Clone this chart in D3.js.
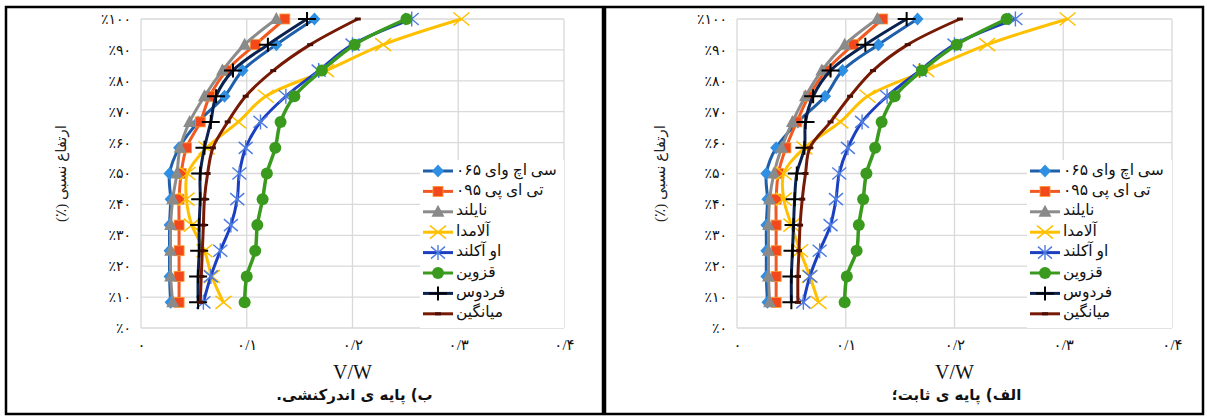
<!DOCTYPE html>
<html>
<head>
<meta charset="utf-8">
<script src="https://cdn.jsdelivr.net/npm/d3@7"></script>
<style>
    html, body { margin: 0; padding: 0; background: #fff; }
    svg { display: block; }
</style>
</head>
<body>
<svg id="chart" width="1207" height="417"></svg>
<script>
"use strict";

// relative height (%) of each measured point, bottom to top
var heights = [8.3, 16.7, 25, 33.3, 41.7, 50, 58.3, 66.7, 75, 83.3, 91.7, 100];

var seriesNames = ["سی اچ وای ۰۶۵", "تی ای پی ۰۹۵", "نایلند", "آلامدا", "او آکلند", "قزوین", "فردوس", "میانگین"];

var xTicks = [0, 0.1, 0.2, 0.3, 0.4];
var yTicks = [0, 10, 20, 30, 40, 50, 60, 70, 80, 90, 100];

// panel b) interactive base
var interChy = [0.028, 0.027, 0.027, 0.027, 0.028, 0.027, 0.036, 0.054, 0.079, 0.096, 0.128, 0.164];
var interTep = [0.036, 0.036, 0.036, 0.036, 0.036, 0.038, 0.043, 0.056, 0.065, 0.081, 0.108, 0.136];
var interNylon = [0.030, 0.028, 0.028, 0.028, 0.030, 0.034, 0.037, 0.046, 0.060, 0.077, 0.098, 0.128];
var interAlameda = [0.078, 0.067, 0.060, 0.048, 0.043, 0.044, 0.062, 0.092, 0.118, 0.175, 0.229, 0.303];
var interAuckland = [0.059, 0.066, 0.075, 0.085, 0.091, 0.093, 0.099, 0.113, 0.137, 0.168, 0.200, 0.256];
var interQazvin = [0.098, 0.100, 0.108, 0.110, 0.115, 0.119, 0.127, 0.132, 0.145, 0.171, 0.202, 0.251];
var interFerdows = [0.054, 0.054, 0.055, 0.055, 0.056, 0.056, 0.060, 0.066, 0.071, 0.087, 0.120, 0.157];
var interMean = [0.056, 0.057, 0.058, 0.059, 0.060, 0.063, 0.068, 0.082, 0.099, 0.125, 0.160, 0.205];

// panel a) fixed base
var fixedChy = [0.028, 0.027, 0.027, 0.027, 0.028, 0.027, 0.036, 0.056, 0.081, 0.097, 0.130, 0.166];
var fixedTep = [0.036, 0.036, 0.036, 0.036, 0.036, 0.038, 0.045, 0.055, 0.066, 0.082, 0.107, 0.134];
var fixedNylon = [0.030, 0.029, 0.029, 0.029, 0.030, 0.034, 0.041, 0.051, 0.063, 0.078, 0.099, 0.129];
var fixedAlameda = [0.075, 0.067, 0.058, 0.050, 0.043, 0.043, 0.062, 0.095, 0.120, 0.174, 0.230, 0.304];
var fixedAuckland = [0.061, 0.067, 0.076, 0.086, 0.091, 0.094, 0.102, 0.115, 0.138, 0.168, 0.200, 0.256];
var fixedQazvin = [0.099, 0.101, 0.110, 0.112, 0.116, 0.119, 0.127, 0.133, 0.145, 0.170, 0.202, 0.248];
var fixedFerdows = [0.050, 0.050, 0.051, 0.052, 0.053, 0.055, 0.062, 0.063, 0.070, 0.086, 0.118, 0.156];
var fixedMean = [0.056, 0.056, 0.057, 0.058, 0.060, 0.063, 0.067, 0.086, 0.104, 0.125, 0.157, 0.205];

var STYLES = [
    { line: "#1f5ea8", width: 3, marker: "diamond", fill: "#2f8fe3", stroke: "#2f8fe3" },
    { line: "#f05a22", width: 3, marker: "square", fill: "#f2481b", stroke: "#ff9a2a" },
    { line: "#8c8c8c", width: 3, marker: "triangle", fill: "#8a8a8a", stroke: "#8a8a8a" },
    { line: "#ffc000", width: 3, marker: "cross", fill: "none", stroke: "#ffc000" },
    { line: "#1b3fc0", width: 3, marker: "star", fill: "none", stroke: "#4d7be0" },
    { line: "#3a9a1e", width: 3.5, marker: "circle", fill: "#3a9a1e", stroke: "#3a9a1e" },
    { line: "#0b2250", width: 3, marker: "plus", fill: "none", stroke: "#000" },
    { line: "#761a06", width: 3, marker: "dash", fill: "none", stroke: "#4a0e00" }
];

var PANELS = [
    {
        frame: [6, 7, 597, 407], x0: 141, x1: 564, tickX: 131, titleX: 63,
        legendX: 423, legendBox: [420, 160, 144, 168],
        caption: "ب) پایه ی اندرکنشی.",
        series: [interChy, interTep, interNylon, interAlameda, interAuckland, interQazvin, interFerdows, interMean]
    },
    {
        frame: [605, 7, 598, 407], x0: 737, x1: 1172, tickX: 727, titleX: 662,
        legendX: 1030, legendBox: [1027, 160, 145, 168],
        caption: "الف) پایه ی ثابت؛",
        series: [fixedChy, fixedTep, fixedNylon, fixedAlameda, fixedAuckland, fixedQazvin, fixedFerdows, fixedMean]
    }
];

var PLOT_TOP = 19,
    PLOT_BOTTOM = 328,
    LEGEND_Y0 = 171,
    LEGEND_STEP = 20.4,
    SERIF = "'Times New Roman', 'Liberation Serif', 'DejaVu Sans', serif";

function toFa(s) {
    return String(s).replace(/[0-9]/g, function (d) {
        return "۰۱۲۳۴۵۶۷۸۹".charAt(+d);
    });
}

function drawMarker(g, kind, st) {
    if (kind === "diamond") {
        g.append("path").attr("d", "M0,-6.5L6,0L0,6.5L-6,0Z").attr("fill", st.fill);
    } else if (kind === "square") {
        g.append("rect").attr("x", -5).attr("y", -5).attr("width", 10).attr("height", 10)
            .attr("fill", st.fill).attr("stroke", st.stroke).attr("stroke-width", 0.8);
    } else if (kind === "triangle") {
        g.append("path").attr("d", "M0,-7L6.5,5L-6.5,5Z").attr("fill", st.fill);
    } else if (kind === "cross") {
        g.append("path").attr("d", "M-8,-6.5L8,6.5M-8,6.5L8,-6.5")
            .attr("stroke", st.stroke).attr("stroke-width", 1.5).attr("fill", "none");
    } else if (kind === "star") {
        g.append("path").attr("d", "M-7,-6L7,6M-7,6L7,-6M0,-7.5L0,7.5")
            .attr("stroke", st.stroke).attr("stroke-width", 1.4).attr("fill", "none");
    } else if (kind === "circle") {
        g.append("circle").attr("r", 6).attr("fill", st.fill);
    } else if (kind === "plus") {
        g.append("path").attr("d", "M-9,0L9,0M0,-7L0,7")
            .attr("stroke", st.stroke).attr("stroke-width", 2).attr("fill", "none");
    } else {
        g.append("path").attr("d", "M-3,0L3,0")
            .attr("stroke", st.stroke).attr("stroke-width", 3).attr("fill", "none");
    }
}

function drawPanel(svg, p) {
    var x = d3.scaleLinear().domain([0, 0.4]).range([p.x0, p.x1]),
        y = d3.scaleLinear().domain([0, 100]).range([PLOT_BOTTOM, PLOT_TOP]),
        g = svg.append("g"),
        line = d3.line()
            .x(function (d) { return x(d.v); })
            .y(function (d) { return y(d.h); })
            .curve(d3.curveCatmullRom.alpha(0.5)),
        legend;

    g.append("rect")
        .attr("x", p.frame[0]).attr("y", p.frame[1])
        .attr("width", p.frame[2]).attr("height", p.frame[3])
        .attr("fill", "#fff").attr("stroke", "#000").attr("stroke-width", 2.5);

    // grid
    g.selectAll("line.gx").data(xTicks).enter().append("line")
        .attr("x1", x).attr("x2", x)
        .attr("y1", PLOT_TOP).attr("y2", PLOT_BOTTOM)
        .attr("stroke", "#d9d9d9").attr("stroke-width", 1.3);
    g.selectAll("line.gy").data(yTicks).enter().append("line")
        .attr("x1", p.x0).attr("x2", p.x1)
        .attr("y1", y).attr("y2", y)
        .attr("stroke", "#d9d9d9").attr("stroke-width", 1.3);

    g.append("g")
        .attr("transform", "translate(0," + (PLOT_BOTTOM + 8) + ")")
        .call(d3.axisBottom(x).tickValues(xTicks).tickSize(0).tickPadding(0)
            .tickFormat(function (v) {
                return v === 0 ? "۰" : toFa(d3.format(".1f")(v)).replace(".", "/");
            }))
        .call(function (a) {
            a.select(".domain").remove();
            a.selectAll("text").attr("font-family", SERIF).attr("font-size", 15)
                .attr("fill", "#111").attr("dy", "0.9em");
        });

    g.append("g")
        .attr("transform", "translate(" + p.tickX + ",0)")
        .call(d3.axisLeft(y).tickValues(yTicks).tickSize(0).tickPadding(0)
            .tickFormat(function (v) { return "٪" + toFa(v); }))
        .call(function (a) {
            a.select(".domain").remove();
            a.selectAll("text").attr("font-family", SERIF).attr("font-size", 14)
                .attr("fill", "#111");
        });

    g.append("text")
        .attr("transform", "translate(" + p.titleX + "," + ((PLOT_TOP + PLOT_BOTTOM) / 2) + ") rotate(-90)")
        .attr("direction", "rtl")
        .attr("text-anchor", "middle")
        .attr("dominant-baseline", "middle")
        .attr("font-family", SERIF).attr("font-size", 15).attr("fill", "#222")
        .text("ارتفاع نسبی (٪)");

    g.append("text")
        .attr("x", (p.x0 + p.x1) / 2).attr("y", 379)
        .attr("text-anchor", "middle")
        .attr("font-family", SERIF).attr("font-size", 20).attr("fill", "#111")
        .text("V/W");

    g.append("text")
        .attr("x", (p.x0 + p.x1) / 2 + 2).attr("y", 400)
        .attr("direction", "rtl")
        .attr("text-anchor", "middle")
        .attr("font-family", "'DejaVu Sans', sans-serif").attr("font-weight", "bold")
        .attr("font-size", 15).attr("fill", "#111")
        .text(p.caption);

    // series
    p.series.forEach(function (vals, i) {
        var st = STYLES[i],
            pts = vals.map(function (v, k) { return { v: v, h: heights[k] }; }),
            sg = g.append("g");
        sg.append("path").datum(pts)
            .attr("d", line)
            .attr("fill", "none")
            .attr("stroke", st.line)
            .attr("stroke-width", st.width);
        sg.selectAll("g.m").data(pts).enter().append("g")
            .attr("transform", function (d) { return "translate(" + x(d.v) + "," + y(d.h) + ")"; })
            .each(function () { drawMarker(d3.select(this), st.marker, st); });
    });

    // legend
    legend = g.append("g");
    legend.append("rect")
        .attr("x", p.legendBox[0]).attr("y", p.legendBox[1])
        .attr("width", p.legendBox[2]).attr("height", p.legendBox[3])
        .attr("fill", "#fff");
    seriesNames.forEach(function (name, i) {
        var st = STYLES[i],
            ly = LEGEND_Y0 + i * LEGEND_STEP,
            item = legend.append("g");
        item.append("line")
            .attr("x1", p.legendX).attr("x2", p.legendX + 30)
            .attr("y1", ly).attr("y2", ly)
            .attr("stroke", st.line).attr("stroke-width", 3);
        drawMarker(item.append("g").attr("transform", "translate(" + (p.legendX + 15) + "," + ly + ")"), st.marker, st);
        item.append("text")
            .attr("x", p.legendX + 33).attr("y", ly)
            .attr("dominant-baseline", "middle")
            .attr("font-family", SERIF).attr("font-size", 15.5).attr("fill", "#111")
            .text(name);
    });
}

var svg = d3.select("#chart");
svg.append("rect").attr("width", 1207).attr("height", 417).attr("fill", "#fff");
PANELS.forEach(function (p) {
    drawPanel(svg, p);
});
</script>
</body>
</html>
